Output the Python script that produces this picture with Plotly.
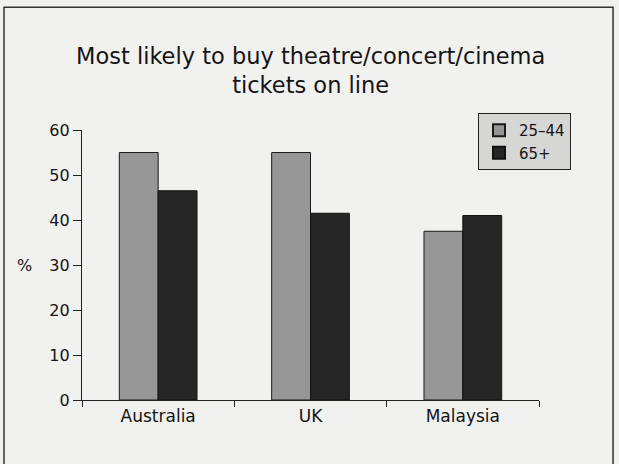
import plotly.graph_objects as go

# Share of each age group likely to buy tickets on line, by country
countries = ["Australia", "UK", "Malaysia"]
age_25_44 = [55, 55, 37.5]
age_65_plus = [46.5, 41.5, 41]
series_names = ["25\u201344", "65+"]
y_ticks = [0, 10, 20, 30, 40, 50, 60]

FONT = "DejaVu Sans"
INK = "#141414"
BG = "#f1f1f0"

fig = go.Figure()
fig.add_trace(go.Bar(
    x=countries, y=age_25_44, name=series_names[0],
    marker=dict(color="#969696", line=dict(color="#1a1a1a", width=1)),
))
fig.add_trace(go.Bar(
    x=countries, y=age_65_plus, name=series_names[1],
    marker=dict(color="#262626", line=dict(color="#111111", width=1)),
))

fig.update_layout(
    width=619, height=464,
    margin=dict(l=82, r=80, t=130, b=64),
    paper_bgcolor=BG, plot_bgcolor=BG,
    barmode="group", bargap=0.49, bargroupgap=0,
    font=dict(family=FONT, color=INK),
    showlegend=True,
    legend=dict(
        x=0.8665, y=1.063, xanchor="left", yanchor="top",
        bgcolor="#d6d6d5", bordercolor="#222222", borderwidth=1,
        font=dict(family=FONT, size=15, color=INK),
        itemsizing="constant", tracegroupgap=0,
    ),
    xaxis=dict(
        type="category", range=[-0.5, 2.5],
        showline=True, linecolor="#222222", linewidth=1.3,
        ticks="outside", tickson="boundaries", ticklen=6,
        tickcolor="#222222", tickwidth=1.3,
        tickfont=dict(family=FONT, size=17, color=INK),
        showgrid=False, zeroline=False, fixedrange=True,
    ),
    yaxis=dict(
        range=[0, 60], tickmode="array", tickvals=y_ticks,
        showline=True, linecolor="#222222", linewidth=1.3,
        ticks="outside", ticklen=8, tickcolor="#222222", tickwidth=1.3,
        tickfont=dict(family=FONT, size=16, color=INK),
        showgrid=False, zeroline=False, fixedrange=True,
    ),
    annotations=[
        dict(
            text="Most likely to buy theatre/concert/cinema<br>tickets on line",
            xref="paper", yref="paper", x=0.499, y=1.22,
            xanchor="center", yanchor="middle", showarrow=False,
            font=dict(family=FONT, size=22.5, color=INK),
        ),
        dict(
            text="%", xref="paper", yref="paper", x=-0.125, y=0.5,
            xanchor="center", yanchor="middle", showarrow=False,
            font=dict(family=FONT, size=16, color=INK),
        ),
    ],
    shapes=[
        # outer chart frame
        dict(type="rect", xref="paper", yref="paper",
             x0=-0.1707, x1=1.162, y0=-0.3, y1=1.455,
             line=dict(color="#333333", width=1.5), layer="below"),
    ],
)

fig.write_html("out.html")
